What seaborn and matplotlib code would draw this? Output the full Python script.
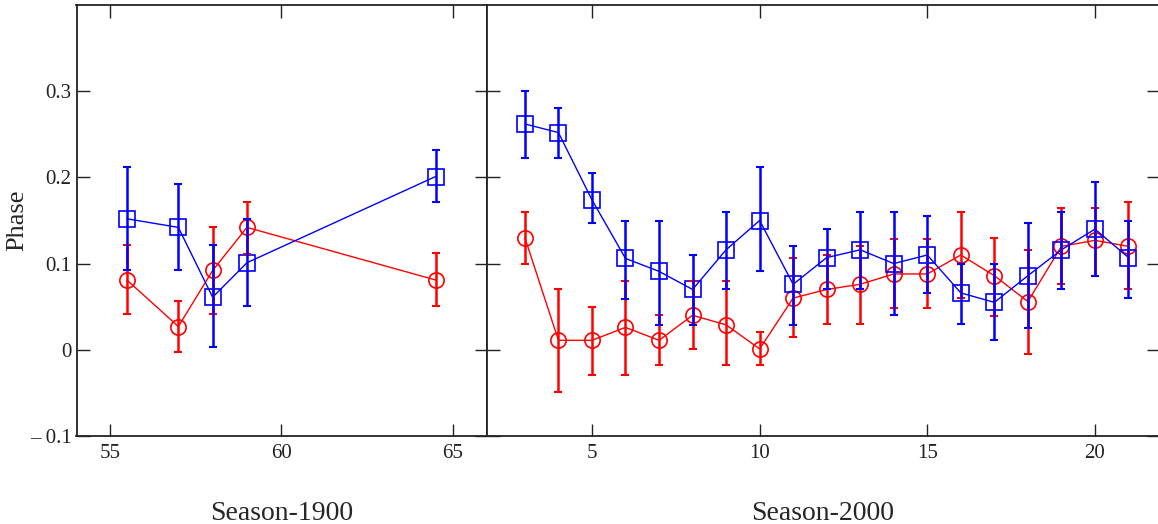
import matplotlib
matplotlib.use("Agg")
import matplotlib.pyplot as plt
import seaborn as sns
import pandas as pd

# Season-1900 panel
season_1900 = [55.5, 57, 58, 59, 64.5]
blue_1900 = [0.152, 0.142, 0.061, 0.101, 0.201]
blue_1900_lo = [0.092, 0.092, 0.003, 0.051, 0.172]
blue_1900_hi = [0.212, 0.192, 0.122, 0.152, 0.232]
red_1900 = [0.081, 0.027, 0.092, 0.142, 0.081]
red_1900_lo = [0.041, -0.003, 0.041, 0.111, 0.051]
red_1900_hi = [0.122, 0.057, 0.142, 0.172, 0.112]

# Season-2000 panel
season_2000 = list(range(3, 22))
blue_2000 = [0.262, 0.252, 0.174, 0.106, 0.091, 0.070, 0.116, 0.150, 0.076,
             0.107, 0.116, 0.100, 0.110, 0.066, 0.055, 0.086, 0.116, 0.140, 0.107]
blue_2000_lo = [0.222, 0.222, 0.147, 0.059, 0.029, 0.029, 0.070, 0.091, 0.029,
                0.071, 0.070, 0.040, 0.066, 0.030, 0.011, 0.025, 0.070, 0.086, 0.060]
blue_2000_hi = [0.300, 0.280, 0.205, 0.150, 0.150, 0.110, 0.160, 0.212, 0.120,
                0.140, 0.160, 0.160, 0.155, 0.100, 0.100, 0.147, 0.160, 0.195, 0.150]
red_2000 = [0.130, 0.011, 0.011, 0.026, 0.011, 0.040, 0.029, 0.001, 0.060,
            0.070, 0.076, 0.088, 0.088, 0.110, 0.086, 0.056, 0.120, 0.127, 0.120]
red_2000_lo = [0.100, -0.049, -0.029, -0.029, -0.018, 0.001, -0.018, -0.018, 0.015,
               0.030, 0.030, 0.048, 0.048, 0.060, 0.039, -0.005, 0.076, 0.086, 0.070]
red_2000_hi = [0.160, 0.070, 0.050, 0.080, 0.040, 0.080, 0.080, 0.021, 0.106,
               0.110, 0.120, 0.129, 0.129, 0.160, 0.130, 0.116, 0.165, 0.165, 0.171]

y_ticks = [-0.1, 0, 0.1, 0.2, 0.3]
y_tick_labels = ["\u2013 0.1", "0", "0.1", "0.2", "0.3"]

sns.set_style("ticks")
plt.rcParams['font.family'] = ['Liberation Serif', 'DejaVu Serif']

fig = plt.figure(figsize=(11.58, 5.24), dpi=100)
ax1 = fig.add_axes([76.5 / 1158, 88 / 524, (487 - 76.5) / 1158, (519 - 88) / 524])
ax2 = fig.add_axes([487 / 1158, 88 / 524, (1159 - 487) / 1158, (519 - 88) / 524])


def draw_panel(ax, x, blue, blo, bhi, red, rlo, rhi):
    df = pd.DataFrame({'x': x, 'blue': blue, 'red': red})
    sns.lineplot(data=df, x='x', y='red', ax=ax, color='#ff0000', lw=1,
                 marker='o', markersize=11, markerfacecolor='none',
                 markeredgecolor='#ff0000', markeredgewidth=1.2)
    sns.lineplot(data=df, x='x', y='blue', ax=ax, color='#0000ff', lw=1,
                 marker='s', markersize=11, markerfacecolor='none',
                 markeredgecolor='#0000ff', markeredgewidth=1.2)
    ax.errorbar(x, red, yerr=[[r - l for r, l in zip(red, rlo)], [h - r for r, h in zip(red, rhi)]],
                fmt='none', ecolor='#ff0000', elinewidth=1.8, capsize=3, capthick=1.5)
    ax.errorbar(x, blue, yerr=[[b - l for b, l in zip(blue, blo)], [h - b for b, h in zip(blue, bhi)]],
                fmt='none', ecolor='#0000ff', elinewidth=1.8, capsize=3, capthick=1.5)
    ax.set_ylim(-0.1, 0.4)
    ax.set_yticks(y_ticks)
    ax.tick_params(direction='in', length=9, width=1, top=True, right=True,
                   labelsize=15, colors='#222222')
    ax.tick_params(axis='x', pad=6)
    for s in ax.spines.values():
        s.set_linewidth(1.3)
        s.set_color('#222222')
    ax.set_ylabel('')


draw_panel(ax1, season_1900, blue_1900, blue_1900_lo, blue_1900_hi,
           red_1900, red_1900_lo, red_1900_hi)
ax1.set_xlim(54.03, 66)
ax1.set_xticks([55, 60, 65])
ax1.set_yticklabels(y_tick_labels)
ax1.set_ylabel('Phase', fontsize=19, labelpad=1)
ax1.set_xlabel('Season-1900', fontsize=20, labelpad=27)

draw_panel(ax2, season_2000, blue_2000, blue_2000_lo, blue_2000_hi,
           red_2000, red_2000_lo, red_2000_hi)
ax2.set_xlim(1.87, 21.91)
ax2.set_xticks([5, 10, 15, 20])
ax2.set_yticklabels([])
ax2.set_xlabel('Season-2000', fontsize=20, labelpad=27)

fig.savefig('out.png', dpi=100)
